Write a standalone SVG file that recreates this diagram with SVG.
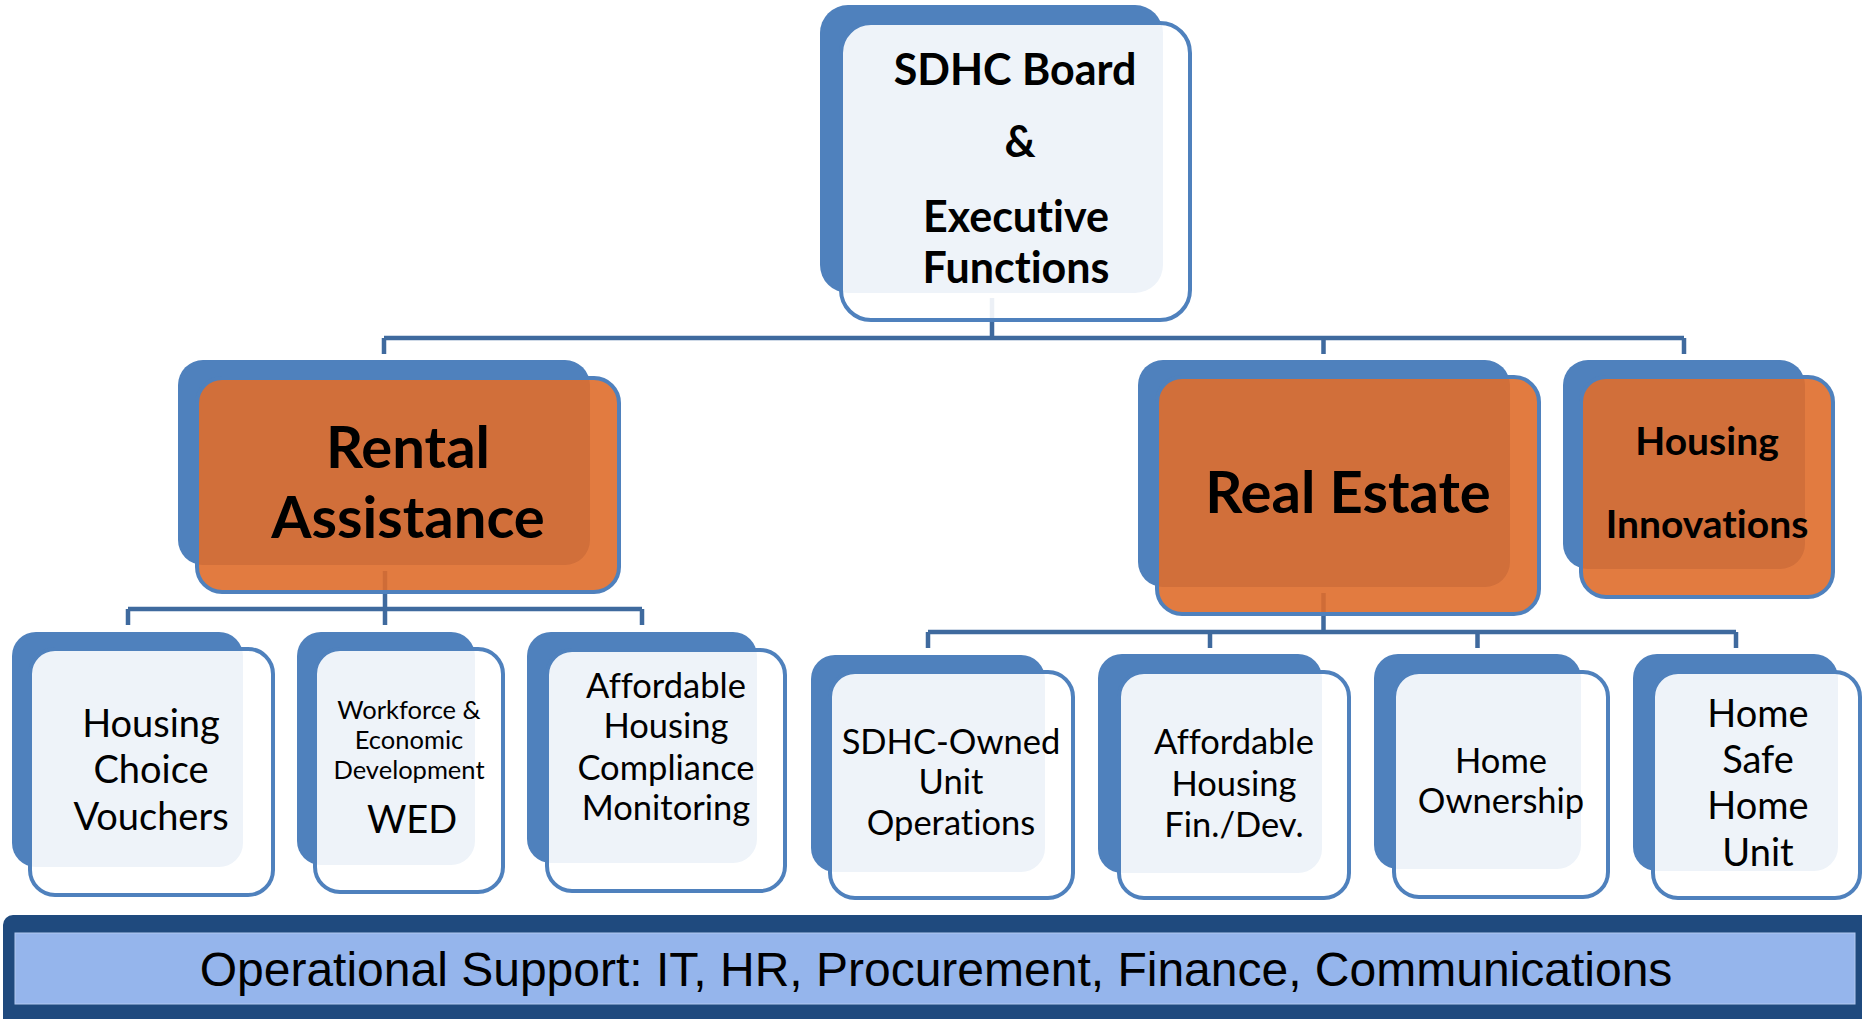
<svg xmlns="http://www.w3.org/2000/svg" width="1862" height="1019" viewBox="0 0 1862 1019">
  <style>
    .back { fill: #4F81BD; }
    .front { fill: #FFFFFF; fill-opacity: 0.9; stroke: #4F81BD; stroke-width: 4; }
    .front.org { fill: #DF6D2B; }
    .conn { fill: none; stroke: #3F6A9E; stroke-width: 4.5; }
    text { font-family: "Lato", "Liberation Sans", sans-serif; fill: #000; text-anchor: middle;
           font-variant-ligatures: none; font-feature-settings: "liga" 0, "dlig" 0, "clig" 0; }
    .t41 { font-size: 38px; }
    .t37 { font-size: 34.5px; }
    .t28 { font-size: 25.5px; }
    .b63 { font-size: 58px; font-weight: 700; }
    .b47 { font-size: 43px; font-weight: 700; }
    .b42 { font-size: 39px; font-weight: 700; }
    .bar-text { font-family: "Liberation Sans", Arial, sans-serif; font-size: 48px; }
  </style>

  <!-- tree connectors (drawn beneath the boxes) -->
  <g id="connectors">
    <path class="conn" d="M992 298 V338 M384 338 H1684 M384 338 V354 M1323.5 338 V354 M1684 338 V354"/>
    <path class="conn" d="M385 571 V625 M128 609 H642 M128 609 V625 M642 609 V625"/>
    <path class="conn" d="M1323.5 593 V632 M928 632 H1736 M928 632 V648 M1210 632 V648 M1477.5 632 V648 M1736 632 V648"/>
  </g>

  <!-- top level -->
  <g id="board">
    <rect class="back" x="820" y="5" width="343" height="288" rx="28"/>
    <rect class="front" x="841" y="23" width="349" height="297" rx="30"/>
    <text class="b47" x="1015" y="85">SDHC Board</text>
    <text class="b47" x="1020" y="157">&amp;</text>
    <text class="b47" x="1016" y="232">Executive</text>
    <text class="b47" x="1016" y="283">Functions</text>
  </g>

  <!-- divisions -->
  <g id="rental-assistance">
    <rect class="back" x="178" y="360" width="412" height="205" rx="25"/>
    <rect class="front org" x="197" y="378" width="422" height="214" rx="25"/>
    <text class="b63" x="408" y="468">Rental</text>
    <text class="b63" x="408" y="538">Assistance</text>
  </g>

  <g id="real-estate">
    <rect class="back" x="1138" y="360" width="372" height="227" rx="25"/>
    <rect class="front org" x="1157" y="377" width="382" height="237" rx="25"/>
    <text class="b63" x="1348" y="513">Real Estate</text>
  </g>

  <g id="housing-innovations">
    <rect class="back" x="1563" y="360" width="242" height="209" rx="25"/>
    <rect class="front org" x="1581" y="377" width="252" height="220" rx="25"/>
    <text class="b42" x="1707" y="455">Housing</text>
    <text class="b42" x="1707" y="538">Innovations</text>
  </g>

  <!-- rental assistance programs -->
  <g id="housing-choice-vouchers">
    <rect class="back" x="12" y="632" width="231" height="235" rx="24"/>
    <rect class="front" x="30" y="649" width="243" height="246" rx="25"/>
    <text class="t41" x="151" y="737">Housing</text>
    <text class="t41" x="151" y="783">Choice</text>
    <text class="t41" x="151" y="830">Vouchers</text>
  </g>

  <g id="wed">
    <rect class="back" x="297" y="632" width="178" height="233" rx="24"/>
    <rect class="front" x="315" y="649" width="188" height="243" rx="25"/>
    <text class="t28" x="409" y="719">Workforce &amp;</text>
    <text class="t28" x="409" y="749">Economic</text>
    <text class="t28" x="409" y="779">Development</text>
    <text class="t41" x="412" y="833">WED</text>
  </g>

  <g id="compliance-monitoring">
    <rect class="back" x="527" y="632" width="230" height="231" rx="24"/>
    <rect class="front" x="547" y="650" width="238" height="241" rx="25"/>
    <text class="t37" x="666" y="698">Affordable</text>
    <text class="t37" x="666" y="738">Housing</text>
    <text class="t37" x="666" y="780">Compliance</text>
    <text class="t37" x="666" y="820">Monitoring</text>
  </g>

  <!-- real estate programs -->
  <g id="sdhc-owned">
    <rect class="back" x="811" y="655" width="234" height="217" rx="24"/>
    <rect class="front" x="830" y="672" width="243" height="226" rx="25"/>
    <text class="t37" x="951" y="754">SDHC-Owned</text>
    <text class="t37" x="951" y="794">Unit</text>
    <text class="t37" x="951" y="835">Operations</text>
  </g>

  <g id="affordable-fin-dev">
    <rect class="back" x="1098" y="654" width="224" height="219" rx="24"/>
    <rect class="front" x="1119" y="672" width="230" height="226" rx="25"/>
    <text class="t37" x="1234" y="754">Affordable</text>
    <text class="t37" x="1234" y="796">Housing</text>
    <text class="t37" x="1234" y="837">Fin./Dev.</text>
  </g>

  <g id="home-ownership">
    <rect class="back" x="1374" y="654" width="207" height="215" rx="24"/>
    <rect class="front" x="1394" y="672" width="214" height="225" rx="25"/>
    <text class="t37" x="1501" y="773">Home</text>
    <text class="t37" x="1501" y="813">Ownership</text>
  </g>

  <g id="home-safe-home">
    <rect class="back" x="1633" y="654" width="205" height="217" rx="24"/>
    <rect class="front" x="1653" y="672" width="207" height="226" rx="25"/>
    <text class="t41" x="1758" y="727">Home</text>
    <text class="t41" x="1758" y="773">Safe</text>
    <text class="t41" x="1758" y="819">Home</text>
    <text class="t41" x="1758" y="866">Unit</text>
  </g>

  <!-- shared services band -->
  <g id="operational-support">
    <rect x="3" y="915" width="1875" height="115" rx="10" fill="#1F4A7E"/>
    <rect x="15" y="933" width="1840" height="71" fill="#95B5EC" stroke="#B3C9F0" stroke-width="1"/>
    <text class="bar-text" x="936" y="986">Operational Support: IT, HR, Procurement, Finance, Communications</text>
  </g>
</svg>
